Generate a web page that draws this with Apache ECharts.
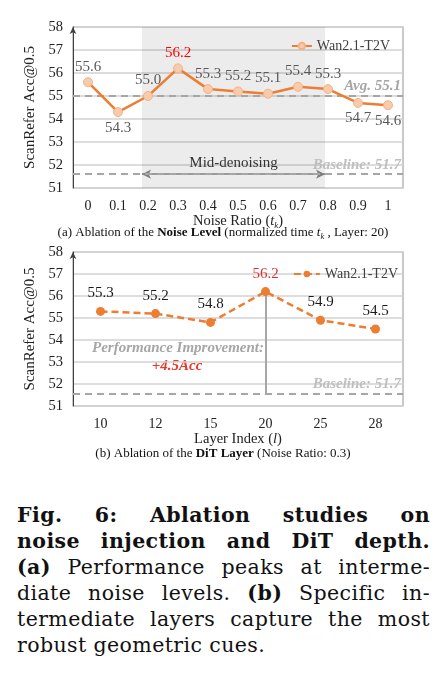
<!DOCTYPE html>
<html>
<head>
<meta charset="utf-8">
<script src="https://cdn.jsdelivr.net/npm/echarts@6/dist/echarts.min.js"></script>
<style>
  body { margin: 0; background: #fff; }
  #chart { width: 446px; height: 470px; }
  .cap { width: 413px; margin-left: 17px; font-family: 'DejaVu Serif', serif; font-size: 20.5px; line-height: 26px; color: #111; letter-spacing: 0.4px; }
  .cap div { text-align: justify; text-align-last: justify; white-space: nowrap; }
  .cap div.last { text-align-last: left; }
</style>
</head>
<body>
<div id="chart"></div>
<div class="cap" style="margin-top:32px">
  <div><b>Fig. 6: Ablation studies on</b></div>
  <div><b>noise injection and DiT depth.</b></div>
  <div><b>(a)</b> Performance peaks at interme-</div>
  <div>diate noise levels. <b>(b)</b> Specific in-</div>
  <div>termediate layers capture the most</div>
  <div class="last">robust geometric cues.</div>
</div>
<script>
// (a) noise level ablation
var noiseRatios = ['0', '0.1', '0.2', '0.3', '0.4', '0.5', '0.6', '0.7', '0.8', '0.9', '1'];
var noiseAcc = [55.6, 54.3, 55.0, 56.2, 55.3, 55.2, 55.1, 55.4, 55.3, 54.7, 54.6];
var avgLineA = 55.0;      // where the dashed avg line sits
var avgTextA = 'Avg. 55.1';
var baseLineA = 51.6;
var midRange = [0.18, 0.79];   // mid-denoising span, in noise ratio

// (b) DiT layer ablation
var layers = ['10', '12', '15', '20', '25', '28'];
var layerAcc = [55.3, 55.2, 54.8, 56.2, 54.9, 54.5];
var baseLineB = 51.55;
var baseText = 'Baseline: 51.7';

var yTicks = [51, 58];

var serif = "'Liberation Serif', 'Times New Roman', serif";
var orange = '#ed7d31';

var chart = echarts.init(document.getElementById('chart'));

function peakIndex(arr) {
  var k = 0;
  for (var i = 1; i < arr.length; i++) if (arr[i] > arr[k]) k = i;
  return k;
}
var peakA = peakIndex(noiseAcc);
var peakB = peakIndex(layerAcc);

function oneDec(p) { return Number(p.value).toFixed(1); }

var dataA = noiseAcc.map(function (v, i) {
  return {
    value: v,
    label: {
      position: v < 55 ? 'bottom' : 'top',
      color: i === peakA ? '#ff0000' : '#595959'
    }
  };
});
var dataB = layerAcc.map(function (v, i) {
  return { value: v, label: { color: i === peakB ? '#e03030' : '#1a1a1a' } };
});

function yAxisFor(gi) {
  return {
    type: 'value', gridIndex: gi, min: yTicks[0], max: yTicks[1], interval: 1,
    name: 'ScanRefer Acc@0.5', nameLocation: 'middle', nameGap: 27,
    nameTextStyle: { fontFamily: serif, fontSize: 15, color: '#222' },
    axisLine: { show: true, onZero: false, lineStyle: { color: '#404040', width: 1 }, symbol: ['none', 'arrow'], symbolSize: [5, 7] },
    axisTick: { show: false },
    axisLabel: { fontFamily: serif, fontSize: 14.5, color: '#222', margin: 10 },
    splitLine: { lineStyle: { color: '#d2d2d2', width: 1.5 } }
  };
}

var richName = {
  n: { fontFamily: serif, fontSize: 14.5, color: '#222' },
  i: { fontFamily: serif, fontSize: 14.5, color: '#222', fontStyle: 'italic' },
  s: { fontFamily: serif, fontSize: 9, color: '#222', fontStyle: 'italic', padding: [8, 0, 0, 0] }
};
var richCap = {
  n: { fontFamily: serif, fontSize: 13, color: '#111', fontWeight: 'normal' },
  b: { fontFamily: serif, fontSize: 13, color: '#111', fontWeight: 'bold' },
  i: { fontFamily: serif, fontSize: 13, color: '#111', fontStyle: 'italic', fontWeight: 'normal' },
  s: { fontFamily: serif, fontSize: 8.5, color: '#111', fontStyle: 'italic', fontWeight: 'normal', padding: [7, 0, 0, 0] }
};

var baseLabel = {
  show: true, position: 'insideEndTop', distance: 2,
  fontFamily: serif, fontSize: 15, fontWeight: 'bold', fontStyle: 'italic', color: '#bfbfbf'
};

var option = {
  animation: false,
  title: [
    {
      text: '{n|(a) Ablation of the }{b|Noise Level}{n| (normalized time }{i|t}{s|k}{n| , Layer: 20)}',
      left: 'center', top: 225, padding: 0,
      textStyle: { fontWeight: 'normal', rich: richCap }
    },
    {
      text: '{n|(b) Ablation of the }{b|DiT Layer}{n| (Noise Ratio: 0.3)}',
      left: 'center', top: 447, padding: 0,
      textStyle: { fontWeight: 'normal', rich: richCap }
    }
  ],
  legend: [
    {
      data: ['a'], top: 34, right: 51, itemWidth: 20, itemHeight: 8, itemGap: 4,
      formatter: function () { return 'Wan2.1-T2V'; },
      textStyle: { fontFamily: serif, fontSize: 14, color: '#404040' }
    },
    {
      data: ['b'], top: 262, right: 43, itemWidth: 26, itemHeight: 8, itemGap: 4,
      formatter: function () { return 'Wan2.1-T2V'; },
      textStyle: { fontFamily: serif, fontSize: 14, color: '#404040' }
    }
  ],
  grid: [
    { left: 73, right: 43, top: 27, height: 161, show: true, borderColor: '#a6a6a6', borderWidth: 1.2 },
    { left: 73, right: 43, top: 252, height: 154, show: true, borderColor: '#a6a6a6', borderWidth: 1.2 }
  ],
  xAxis: [
    {
      type: 'category', gridIndex: 0, data: noiseRatios,
      name: '{n|Noise Ratio (}{i|t}{s|k}{n|)}', nameLocation: 'middle', nameGap: 23,
      nameTextStyle: { rich: richName },
      axisLine: { show: false }, axisTick: { show: false },
      axisLabel: { fontFamily: serif, fontSize: 14, color: '#222', margin: 11 }
    },
    { type: 'value', gridIndex: 0, min: -0.05, max: 1.05, show: false },
    {
      type: 'category', gridIndex: 1, data: layers,
      name: '{n|Layer Index (}{i|l}{n|)}', nameLocation: 'middle', nameGap: 24,
      nameTextStyle: { rich: richName },
      axisLine: { show: false }, axisTick: { show: false },
      axisLabel: { fontFamily: serif, fontSize: 14, color: '#222', margin: 11 }
    }
  ],
  yAxis: [yAxisFor(0), yAxisFor(1)],
  series: [
    {
      // helper: shaded mid-denoising range + arrow
      name: 'range', type: 'line', xAxisIndex: 1, yAxisIndex: 0,
      data: [[midRange[0], baseLineA]], symbol: 'none', silent: true,
      lineStyle: { opacity: 0 },
      markArea: {
        silent: true,
        itemStyle: { color: 'rgba(0,0,0,0.075)' },
        data: [[{ xAxis: midRange[0] }, { xAxis: midRange[1] }]]
      },
      markLine: {
        silent: true, symbol: ['arrow', 'arrow'], symbolSize: [7, 9],
        lineStyle: { color: '#7f7f7f', type: 'solid', width: 1.5 },
        label: { show: true, position: 'middle', formatter: 'Mid-denoising', fontFamily: serif, fontSize: 15, color: '#333', distance: 4 },
        data: [[{ coord: [midRange[0], baseLineA] }, { coord: [midRange[1], baseLineA] }]]
      }
    },
    {
      name: 'a', type: 'line', xAxisIndex: 0, yAxisIndex: 0, data: dataA, z: 5,
      symbol: 'circle', symbolSize: 9,
      itemStyle: { color: '#f8cbad', borderColor: '#f4b183', borderWidth: 1 },
      lineStyle: { color: orange, width: 2.5 },
      label: { show: true, fontFamily: serif, fontSize: 15, distance: 3, formatter: oneDec },
      markLine: {
        silent: true, symbol: 'none',
        lineStyle: { color: '#a6a6a6', type: [7, 5], width: 2 },
        data: [
          { yAxis: avgLineA, label: Object.assign({}, baseLabel, { formatter: avgTextA, color: '#a6a6a6' }) },
          { yAxis: baseLineA, label: Object.assign({}, baseLabel, { formatter: baseText }) }
        ]
      }
    },
    {
      name: 'b', type: 'line', xAxisIndex: 2, yAxisIndex: 1, data: dataB, z: 5,
      symbol: 'circle', symbolSize: 9,
      itemStyle: { color: orange },
      lineStyle: { color: orange, width: 2.5, type: [7, 4] },
      label: { show: true, position: 'top', fontFamily: serif, fontSize: 15, distance: 6, formatter: oneDec },
      markLine: {
        silent: true, symbol: 'none',
        data: [
          {
            yAxis: baseLineB,
            lineStyle: { color: '#a6a6a6', type: [7, 5], width: 2 },
            label: Object.assign({}, baseLabel, { formatter: baseText })
          },
          [
            { coord: [layers[peakB], layerAcc[peakB]], lineStyle: { color: '#a6a6a6', type: 'solid', width: 2 }, label: { show: false } },
            { coord: [layers[peakB], baseLineB] }
          ]
        ]
      }
    }
  ],
  graphic: [
    {
      type: 'text', x: 178, y: 348,
      style: {
        text: 'Performance Improvement:', align: 'center', verticalAlign: 'middle',
        font: 'italic bold 15px ' + serif, fill: '#a6a6a6'
      }
    },
    {
      type: 'text', x: 177, y: 366,
      style: {
        text: '+4.5Acc', align: 'center', verticalAlign: 'middle',
        font: 'italic bold 15px ' + serif, fill: '#e8382a'
      }
    }
  ]
};

chart.setOption(option);
</script>
</body>
</html>
